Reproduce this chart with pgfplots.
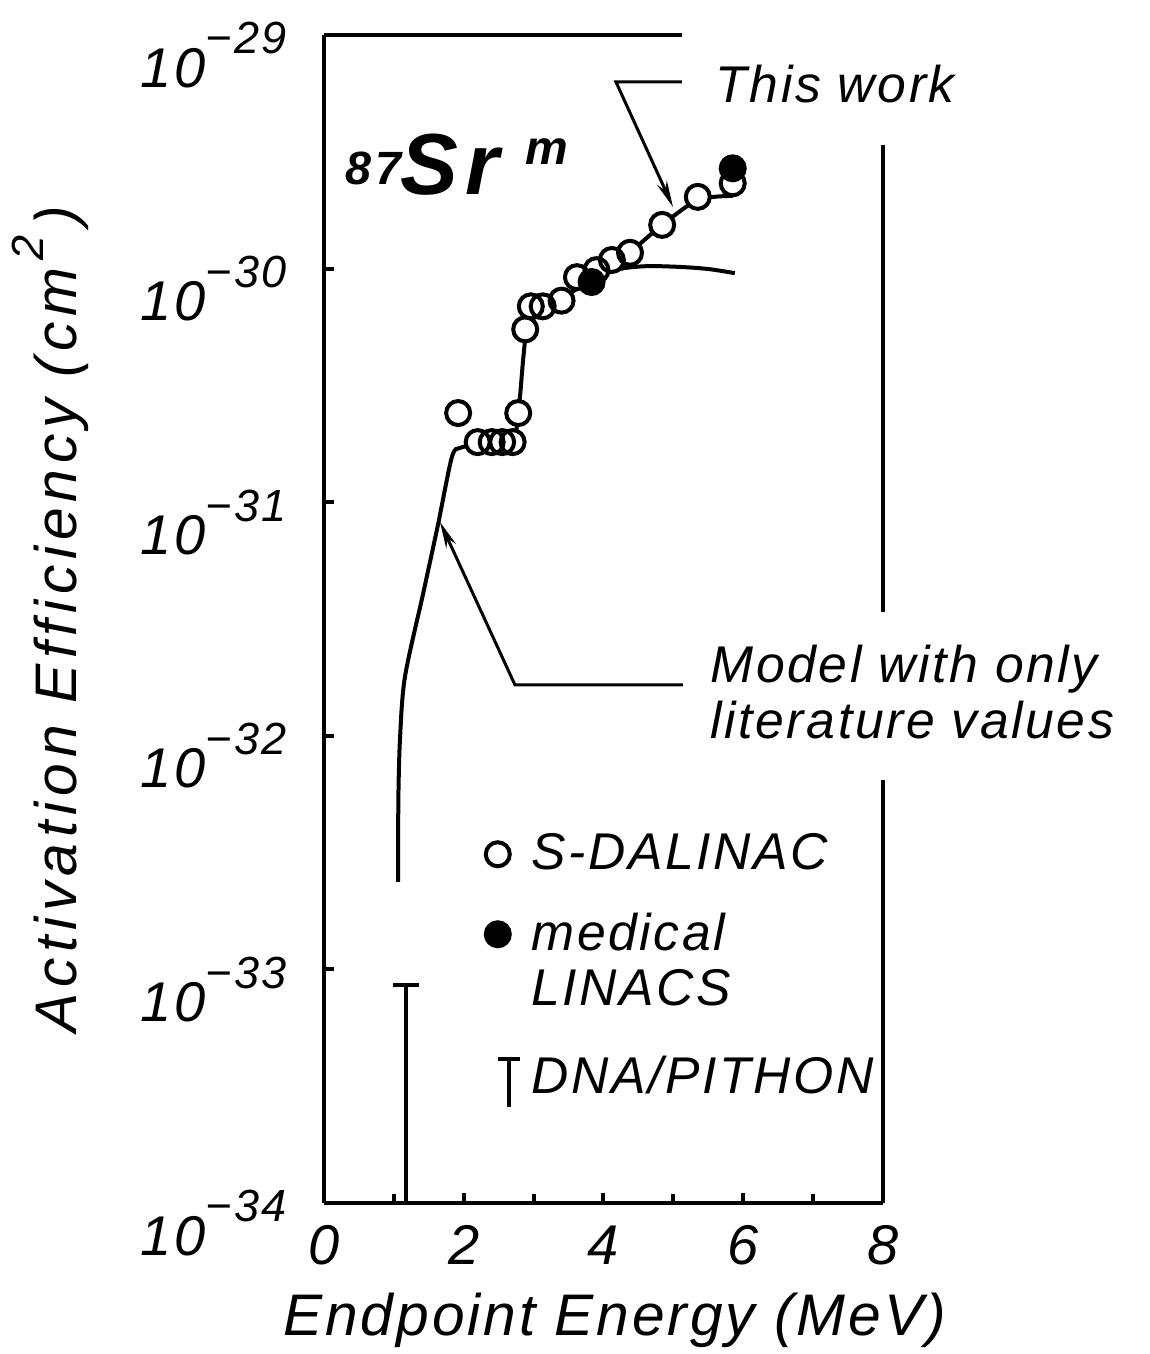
\documentclass[border=0pt]{standalone}
\usepackage{pgfplots}
\pgfplotsset{compat=1.18}
\usetikzlibrary{arrows.meta}
\usepackage{fontspec}
\setmainfont{Liberation Sans}
\newfontfamily\lab[LetterSpace=5]{Liberation Sans}
\newfontfamily\ylabf[LetterSpace=10]{Liberation Sans}
\newfontfamily\srf[LetterSpace=8]{Liberation Sans}
\newcommand\annot{\lab\itshape\fontsize{15.5}{17}\selectfont}
\newcommand\tlab{\lab\itshape\fontsize{16.8}{18}\selectfont}
\newcommand\alab{\lab\itshape\fontsize{17.6}{19}\selectfont}
\newcommand\ylab{\ylabf\itshape\fontsize{17.6}{19}\selectfont}
\newcommand\ex[1]{\raisebox{10pt}{\fontsize{13.5}{14}\selectfont #1}}
\begin{document}
\begin{tikzpicture}
\begin{axis}[
  at={(0,0)}, anchor=south west,
  scale only axis, width=167.7pt, height=350.4pt,
  xmin=0, xmax=8, ymin=1e-34, ymax=1e-29, ymode=log,
  enlargelimits=false, clip=false,
  axis lines=left, axis line style={-, line width=1.2pt},
  tick align=inside, tick style={line width=1.2pt, black},
  major tick length=3pt, minor tick length=2.6pt,
  xtick={0,2,4,6,8}, minor xtick={1,3,5,7},
  xticklabels={0,2,4,6,8},
  ytick={1e-34,1e-33,1e-32,1e-31,1e-30,1e-29}, yminorticks=false,
  yticklabels={10\ex{−34},10\ex{−33},10\ex{−32},10\ex{−31},10\ex{−30},10\ex{−29}},
  tick label style={font=\tlab},
  yticklabel style={anchor=east, inner sep=0pt, xshift=-11pt, yshift=-6pt},
  xticklabel style={anchor=north, inner sep=0pt, yshift=-6.6pt},
  xlabel={Endpoint Energy (MeV)},
  ylabel={Activation Efficiency (cm\ex{\,2}\,)},
  xlabel style={font=\alab, at={(axis description cs:0.52,-0.1)}, anchor=center},
  ylabel style={font=\ylab, at={(axis description cs:-0.49,0.5)}, anchor=center},
  legend style={at={(0.268,0.3168)}, anchor=north west, draw=none, fill=none,
    inner sep=0pt, row sep=0pt, column sep=3pt, nodes={inner sep=0pt}, font=\annot},
  legend cell align=left,
]
% legend images
\addlegendimage{legend image code/.code={\path[draw=none, fill=none] (-7pt,-12pt) rectangle (7pt,5.7pt);
  \draw[line width=1.2pt, mark=o, mark size=3.6pt] plot coordinates {(0pt,0pt)};}}
\addlegendentry{S-DALINAC}
\addlegendimage{legend image code/.code={\path[draw=none, fill=none] (-7pt,-8.4pt) rectangle (7pt,12pt);
  \draw[line width=1.2pt, mark=*, mark size=3.6pt, fill=black] plot coordinates {(0pt,0pt)};}}
\addlegendentry{medical}
\addlegendimage{legend image code/.code={\path[draw=none, fill=none] (-7pt,-13pt) rectangle (7pt,8.4pt);}}
\addlegendentry{LINACS}
\addlegendimage{legend image code/.code={\path[draw=none, fill=none] (-7pt,-9pt) rectangle (7pt,13pt);
  \draw[line width=1.1pt] (3.3pt,-9pt) -- (3.3pt,5.4pt) (0pt,5.4pt) -- (6.6pt,5.4pt);}}
\addlegendentry{DNA/PITHON}

% model with only literature values (branch)
\addplot[forget plot, line width=1.2pt, smooth, tension=0.5] coordinates {
 (3.81,8.93e-31) (4.09,9.66e-31) (4.31,1.007e-30) (4.66,1.026e-30)
 (5.14,1.016e-30) (5.52,9.95e-31) (5.88,9.57e-31)};
% this work model
\addplot[forget plot, line width=1.2pt, smooth, tension=0.5] coordinates {
 (1.06,2.37e-33) (1.065,5.5e-33) (1.09,1.0e-32) (1.16,1.8e-32)
 (1.42,4.08e-32) (1.63,7.98e-32) (1.83,1.56e-31) (1.95,1.71e-31)
 (2.2,1.76e-31) (2.5,1.76e-31) (2.73,1.94e-31) (2.80,2.74e-31) (2.85,4.07e-31)
 (2.90,5.46e-31) (2.99,6.32e-31) (3.16,6.85e-31) (3.38,7.35e-31) (3.59,8.09e-31)
 (3.81,8.93e-31) (4.09,1.035e-30) (4.38,1.178e-30) (4.84,1.538e-30)
 (5.35,1.968e-30) (5.85,2.05e-30)};
% DNA/PITHON upper limit
\addplot[forget plot, line width=1.2pt, mark=-, mark size=3.9pt, mark indices={2},
  mark options={line width=1.2pt}] coordinates {(1.17,1e-34) (1.17,8.57e-34)};
% S-DALINAC: white discs (hide curve), then outlines
\pgfplotstableread{
E A
1.92 2.41e-31
2.20 1.81e-31
2.40 1.81e-31
2.55 1.81e-31
2.70 1.81e-31
2.78 2.41e-31
2.88 5.5e-31
2.96 6.9e-31
3.13 6.9e-31
3.40 7.3e-31
3.62 9.2e-31
3.90 9.86e-31
4.12 1.09e-30
4.38 1.17e-30
4.84 1.54e-30
5.35 2.03e-30
5.85 2.32e-30
}\sdalinac
\addplot[forget plot, only marks, mark=*, mark size=3.6pt,
  mark options={fill=white, draw=none}] table[x=E, y=A] {\sdalinac};
\addplot[forget plot, only marks, mark=o, mark size=3.6pt,
  mark options={line width=1.2pt, draw=black}] table[x=E, y=A] {\sdalinac};
% medical LINACS
\addplot[forget plot, only marks, mark=*, mark size=3.6pt,
  mark options={line width=1.2pt, draw=black, fill=black}] coordinates {
 (3.83,8.77e-31) (5.85,2.69e-30)};
% partial frame (top and right)
\draw[line width=1.2pt] (rel axis cs:0,1) -- (rel axis cs:0.64,1);
\draw[line width=1.2pt] (rel axis cs:1,0) -- (rel axis cs:1,0.362);
\draw[line width=1.2pt] (rel axis cs:1,0.506) -- (rel axis cs:1,0.906);
\end{axis}
\begin{scope}[shift={(-97.2pt,360.9pt)}, x=0.3pt, y=-0.3pt]
 \draw[line width=0.9pt, -{Stealth[length=8pt,width=3.2pt]}] (682,82) -- (616,82) -- (673,207);
 \draw[line width=0.9pt, -{Stealth[length=8pt,width=3.2pt]}] (683,685) -- (515,685) -- (440,522);
 \node[anchor=base west, inner sep=0pt, font=\annot] at (715,103) {This work};
 \node[anchor=base west, inner sep=0pt, font=\annot] at (710,683) {Model with only};
 \node[anchor=base west, inner sep=0pt, font=\annot] at (710,738) {literature values};
 \node[anchor=base west, inner sep=0pt, font=\srf\bfseries\itshape\fontsize{14}{15}\selectfont] at (345,185) {87};
 \node[anchor=base west, inner sep=0pt, font=\srf\bfseries\itshape\fontsize{26}{28}\selectfont] at (400,195) {Sr};
 \node[anchor=base west, inner sep=0pt, font=\srf\bfseries\itshape\fontsize{14.4}{16}\selectfont] at (525,165) {m};
 \pgfresetboundingbox
 \path[use as bounding box] (0,0) rectangle (1150,1354);
\end{scope}
\end{tikzpicture}
\end{document}
